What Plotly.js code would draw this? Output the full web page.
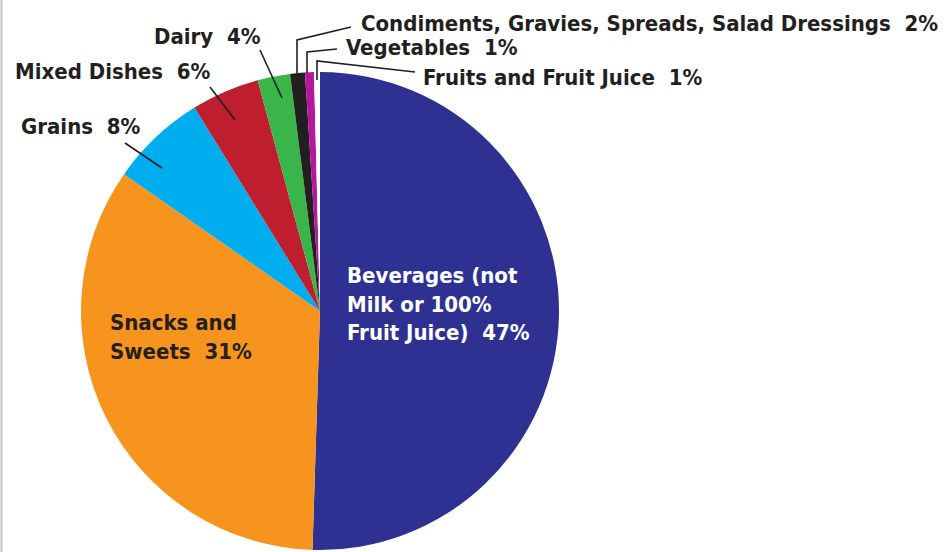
<!DOCTYPE html>
<html>
<head>
<meta charset="utf-8">
<script src="https://cdn.plot.ly/plotly-3.0.1.min.js"></script>
<style>html,body{margin:0;padding:0;background:#fff;}#chart{width:949px;height:552px;}</style>
</head>
<body>
<div id="chart"></div>
<script>
// Categories (in drawing order, clockwise from 12 o'clock)
const categories = [
  "Beverages (not Milk or 100% Fruit Juice)",
  "Snacks and Sweets",
  "Grains",
  "Mixed Dishes",
  "Dairy",
  "Condiments, Gravies, Spreads, Salad Dressings",
  "Vegetables",
  "Fruits and Fruit Juice"
];
// Slice sizes as drawn in the picture (share of the circle, %)
const drawnShares = [50.5, 34.2, 6.5, 4.6, 2.2, 1.0, 0.6, 0.4];
// Percentages printed on the labels
const labelPercents = [47, 31, 8, 6, 4, 2, 1, 1];
// Label text lines
const labelLines = [
  ["Beverages (not", "Milk or 100%", "Fruit Juice)"],
  ["Snacks and", "Sweets"],
  ["Grains"],
  ["Mixed Dishes"],
  ["Dairy"],
  ["Condiments, Gravies, Spreads, Salad Dressings"],
  ["Vegetables"],
  ["Fruits and Fruit Juice"]
];
const sliceColors = ["#2e3192", "#f7941d", "#00aeef", "#be1e2d", "#39b54a", "#231f20", "#b5179e", "#ffffff"];

const W = 949, H = 552;
const px = x => x / W;
const py = y => 1 - y / H;

// Label placement (pixel anchors, left-aligned)
const labelPos = [
  {x: 345, y: 304, color: "#ffffff"},
  {x: 108, y: 337, color: "#231f20"},
  {x: 19,  y: 126, color: "#231f20"},
  {x: 13,  y: 71,  color: "#231f20"},
  {x: 152, y: 37,  color: "#231f20"},
  {x: 359, y: 24,  color: "#231f20"},
  {x: 344, y: 48,  color: "#231f20"},
  {x: 421, y: 77,  color: "#231f20"}
];
// Leader lines (pixel polylines)
const leaders = [
  null, null,
  [[125, 143], [162, 168]],
  [[210, 87], [235, 120]],
  [[260, 50], [282, 98]],
  [[297, 73], [297, 40], [351, 27]],
  [[307, 73], [307, 52], [337, 49]],
  [[317, 80], [317, 61], [415, 72]]
];

const FONT = "'Liberation Sans Narrow', 'DejaVu Sans Condensed', 'Arial Narrow', sans-serif";

const annotations = categories.map((c, i) => {
  const lines = labelLines[i].slice();
  lines[lines.length - 1] = lines[lines.length - 1] + "\u00a0 " + labelPercents[i] + "%";
  return {
    text: lines.map(l => "<b>" + l + "</b>").join("<br>"),
    xref: "paper", yref: "paper",
    x: px(labelPos[i].x), y: py(labelPos[i].y),
    xanchor: "left", yanchor: "middle", align: "left",
    showarrow: false,
    font: {family: FONT, size: 22, color: labelPos[i].color}
  };
});

const shapes = leaders.filter(l => l).map(pts => ({
  type: "path",
  xref: "paper", yref: "paper",
  path: pts.map((p, k) => (k === 0 ? "M" : "L") + px(p[0]) + "," + py(p[1])).join(" "),
  line: {color: "#231f20", width: 1.6}
}));
// left frame line of the picture
shapes.push({type: "line", xref: "paper", yref: "paper", x0: px(1.5), x1: px(1.5), y0: 0, y1: 1,
  line: {color: "#c4c4c4", width: 2}});

const cx = 320, cy = 311, r = 239;
const trace = {
  type: "pie",
  labels: categories,
  values: drawnShares,
  sort: false,
  direction: "clockwise",
  rotation: 0,
  marker: {colors: sliceColors, line: {width: 0}},
  textinfo: "none",
  hoverinfo: "none",
  showlegend: false,
  domain: {x: [px(cx - r), px(cx + r)], y: [py(cy + r), py(cy - r)]}
};

Plotly.newPlot("chart", [trace], {
  width: W, height: H,
  margin: {l: 0, r: 0, t: 0, b: 0},
  paper_bgcolor: "#ffffff",
  annotations: annotations,
  shapes: shapes
}, {staticPlot: true});
</script>
</body>
</html>
